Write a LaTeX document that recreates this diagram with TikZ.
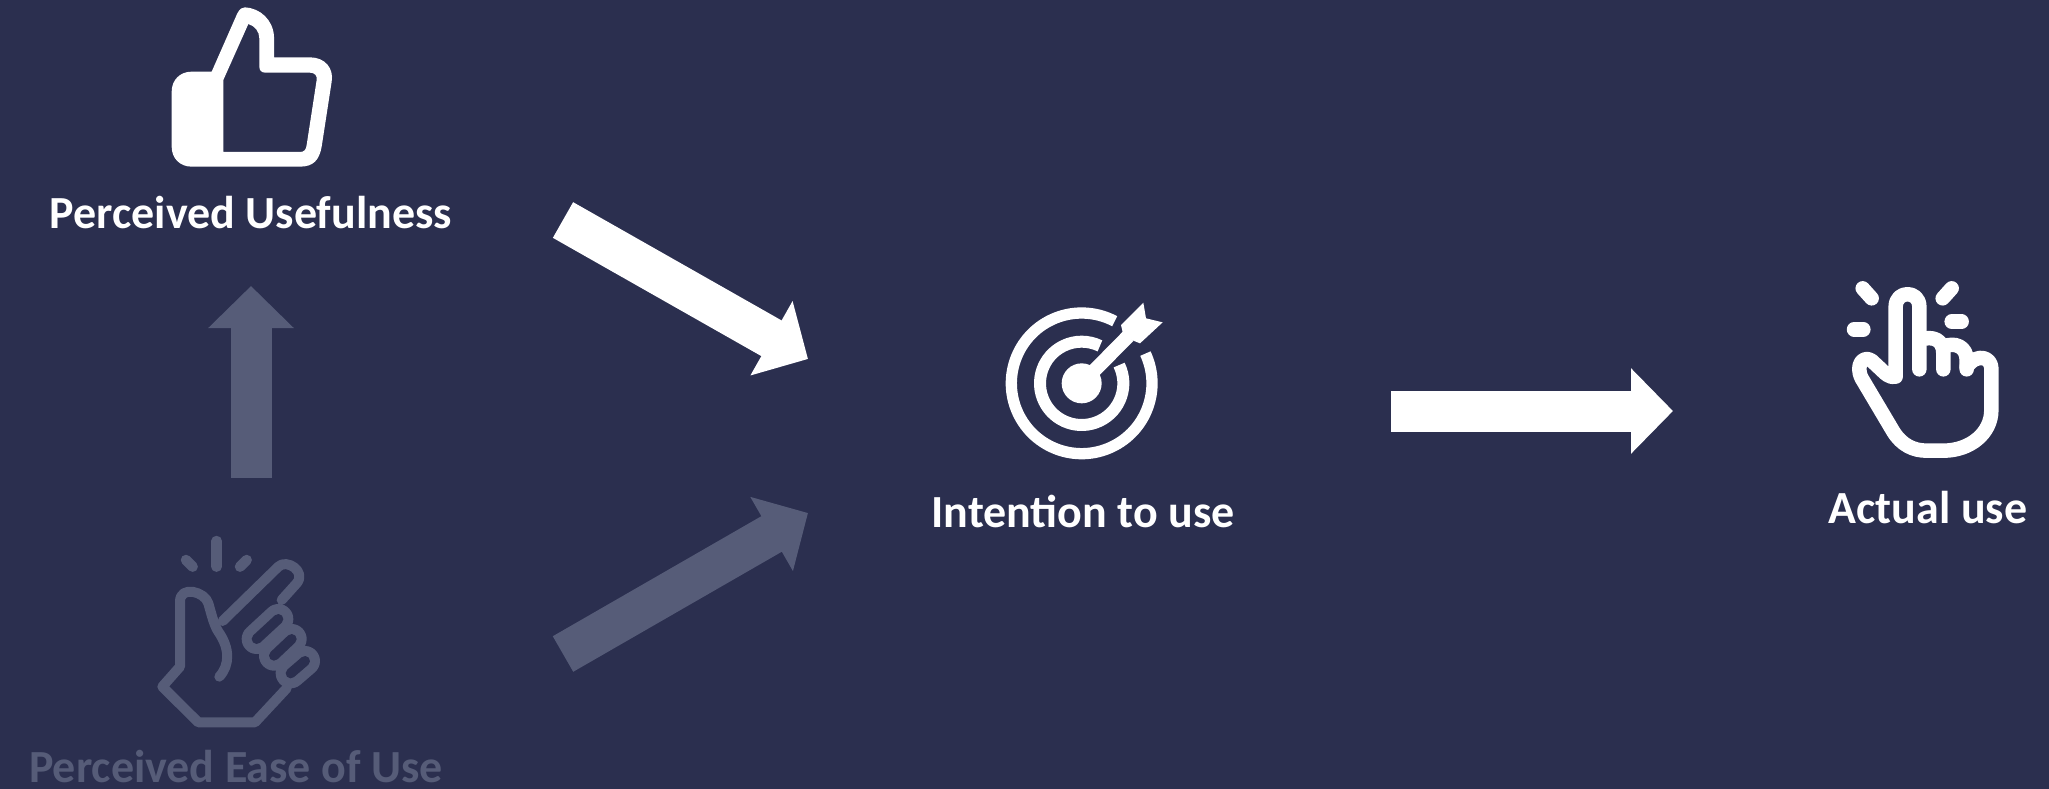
\documentclass[tikz,border=0pt]{standalone}
\usepackage{fontspec}
\setmainfont{Carlito}
\usetikzlibrary{arrows.meta}
\definecolor{bgc}{HTML}{2B2F4F}
\definecolor{dimc}{HTML}{565C78}
\tikzset{
  lab/.style={font=\fontsize{46}{50}\selectfont\bfseries,inner sep=0pt,anchor=center,text=#1},
  lab/.default=white,
  blockarrow/.style={draw=#1,line width=41pt,-{Triangle[length=42pt,width=83pt,fill=#1]}},
  blockarrow/.default=white,
  diagarrow/.style={draw=#1,line width=41pt,-{Triangle[length=42pt,width=83pt,fill=#1]}},
  stroke/.style={draw=#1,line cap=round,line join=round},
  capsule/.style={draw=#1,line cap=round,line width=10pt,double=bgc,double distance=10pt},
}
\begin{document}
\begin{tikzpicture}[x=1pt,y=-1pt]
\useasboundingbox (0,0) rectangle (2049,789);
\fill[bgc] (0,0) rectangle (2049,789);

% labels
\node[lab] (pu) at (251,213) {Perceived Usefulness};
\node[lab=dimc] (peou) at (236,767) {Perceived Ease of Use};
\node[lab] (iu) at (1083,511) {Intention to use};
\node[lab] (au) at (1928,508) {Actual use};

% block arrows
\coordinate (a1s) at (563,220);
\coordinate (a1e) at (808,359);
\coordinate (a2s) at (563,654);
\coordinate (a2e) at (808,513);
\coordinate (a3s) at (1391,411);
\coordinate (a3e) at (1673,411);
\coordinate (a4s) at (251,478);
\coordinate (a4e) at (251,286);
\draw[blockarrow] (a1s) -- (a1e);
\draw[blockarrow=dimc] (a2s) -- (a2e);
\draw[blockarrow] (a3s) -- (a3e);
\draw[blockarrow=dimc] (a4s) -- (a4e);

% thumb icon
\begin{scope}[shift={(150,0)},scale=1/3]
\fill[white,even odd rule]
 (185,215) -- (262,40) .. controls (270,26) and (275,22) .. (285,22)
 .. controls (330,24) and (370,60) .. (372,110) -- (372,172) -- (480,172)
 .. controls (525,172) and (552,205) .. (545,245) -- (515,440)
 .. controls (508,480) and (490,500) .. (450,500) -- (125,500)
 .. controls (90,500) and (65,475) .. (65,440) -- (65,275)
 .. controls (65,240) and (90,215) .. (125,215) -- cycle
 (220,240) -- (295,72) .. controls (315,78) and (328,95) .. (328,115) -- (328,200)
 .. controls (328,212) and (335,218) .. (347,218) -- (480,218)
 .. controls (495,218) and (502,228) .. (500,240) -- (470,435)
 .. controls (468,450) and (462,456) .. (450,456) -- (220,456) -- cycle;
\end{scope}

% snapping hand icon
\begin{scope}[shift={(140,525)},scale=1/3]
\draw[stroke=dimc,line width=10.5pt] (230,48) -- (230,125);
\draw[stroke=dimc,line width=10.5pt] (138,105) -- (158,125);
\draw[stroke=dimc,line width=10.5pt] (320,105) -- (300,125);
\draw[capsule=dimc] (350,342) -- (415,282);
\draw[capsule=dimc] (402,392) -- (455,342);
\draw[capsule=dimc] (452,445) -- (495,408);
\draw[stroke=dimc,line width=10pt]
 (238,455) .. controls (270,420) and (270,370) .. (235,320)
 .. controls (222,300) and (215,270) .. (205,235)
 .. controls (195,200) and (120,180) .. (120,230) -- (120,425) -- (67,485) -- (175,592) -- (345,592) -- (440,490);
\draw[stroke=dimc,line width=10pt]
 (248,288) -- (415,125) .. controls (440,100) and (500,140) .. (470,175) -- (425,225);
\end{scope}

% target icon
\begin{scope}[shift={(990,290)},scale=1/3]
\coordinate (tc) at (275,280);
\draw[white,line width=11.3pt] (tc) ++(25:211pt) arc[start angle=25,end angle=-298,radius=211pt];
\draw[white,line width=12pt] (tc) ++(26:125pt) arc[start angle=26,end angle=-296,radius=125pt];
\fill[white] (tc) circle[radius=60pt];
\draw[white,line width=14pt] (tc) -- (415,138);
\fill[white] (393,105) -- (460,38) -- (468,85) -- (518,97) -- (450,160) -- (425,150) -- (400,135) -- cycle;
\end{scope}

% clicking hand icon
\begin{scope}[shift={(1830,270)},scale=1/3]
\draw[stroke=white,line width=14.5pt] (98,55) -- (125,85);
\draw[stroke=white,line width=14.5pt] (365,55) -- (338,85);
\draw[stroke=white,line width=14.5pt] (72,178) -- (100,178);
\draw[stroke=white,line width=14.5pt] (365,155) -- (395,155);
\draw[stroke=white,line width=14.5pt]
 (268,298) -- (268,110) .. controls (268,60) and (197,60) .. (197,110) -- (197,320)
 .. controls (180,325) and (165,310) .. (155,300) -- (125,272)
 .. controls (100,255) and (75,285) .. (95,325) -- (190,485)
 .. controls (215,525) and (250,542) .. (290,542) -- (340,542)
 .. controls (420,542) and (484,490) .. (484,420) -- (484,295)
 .. controls (484,265) and (445,245) .. (410,290);
\draw[stroke=white,line width=14.5pt]
 (268,210) .. controls (310,195) and (340,210) .. (340,250) -- (340,298);
\draw[stroke=white,line width=14.5pt]
 (340,230) .. controls (375,215) and (410,230) .. (410,270) -- (410,298);
\end{scope}
\end{tikzpicture}
\end{document}
